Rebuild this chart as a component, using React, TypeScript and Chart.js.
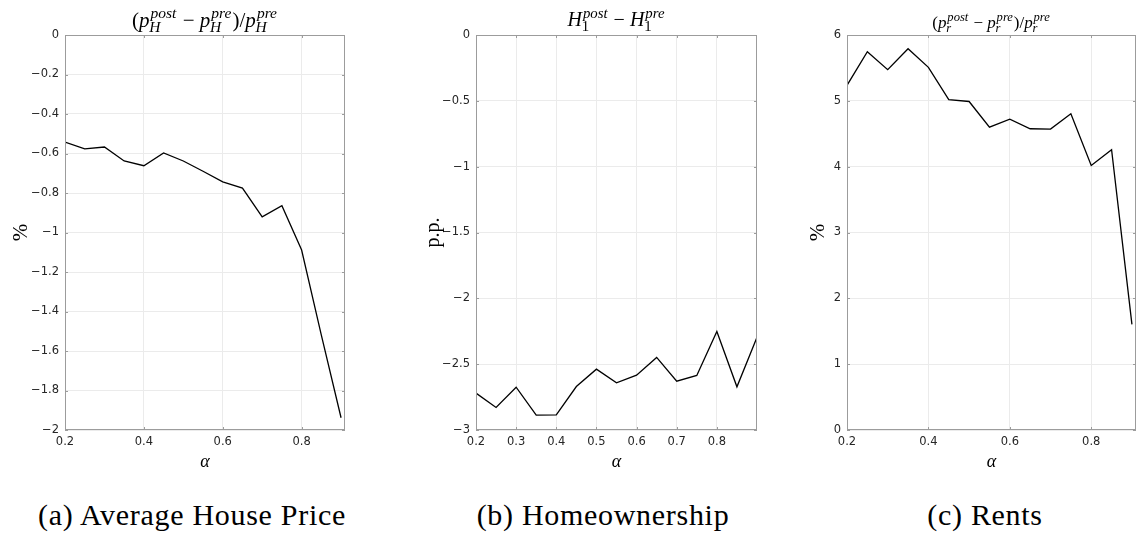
import React, { useEffect, useRef } from "react";
import { Chart, registerables } from "chart.js";

Chart.register(...registerables);

// Policy parameter alpha on the horizontal axis of every panel
const alpha = [0.2, 0.25, 0.3, 0.35, 0.4, 0.45, 0.5, 0.55, 0.6, 0.65, 0.7, 0.75, 0.8, 0.85, 0.9];

// (a) change in the average house price, %
const housePriceChange = [
  -0.542, -0.577, -0.567, -0.638, -0.662, -0.597, -0.638, -0.69, -0.744, -0.775, -0.921, -0.864,
  -1.089, -1.52, -1.938,
];

// (b) change in homeownership, percentage points
const homeownershipChange = [
  -2.72, -2.829, -2.675, -2.887, -2.885, -2.67, -2.538, -2.642, -2.584, -2.449, -2.629, -2.586,
  -2.252, -2.672, -2.295,
];

// (c) change in rents, %
const rentChange = [
  5.235, 5.747, 5.473, 5.792, 5.508, 5.017, 4.99, 4.6, 4.72, 4.576, 4.571, 4.804, 4.018, 4.257,
  1.605,
];

// Tick values
const wideXTicks = [0.2, 0.4, 0.6, 0.8];
const fineXTicks = [0.2, 0.3, 0.4, 0.5, 0.6, 0.7, 0.8];
const priceYTicks = [0, -0.2, -0.4, -0.6, -0.8, -1, -1.2, -1.4, -1.6, -1.8, -2];
const homeYTicks = [0, -0.5, -1, -1.5, -2, -2.5, -3];
const rentYTicks = [0, 1, 2, 3, 4, 5, 6];

// Captions under the panels
const captions = ["(a) Average House Price", "(b) Homeownership", "(c) Rents"];

type MathSeg = { t: string; it?: boolean; sup?: string; sub?: string; subUpright?: boolean };

const MATH_FONT = '"Liberation Serif", "DejaVu Serif", serif';
const TICK_FONT = '"DejaVu Sans", sans-serif';
const FRAME = "#9c9c9c";
const GRID = "#ebebeb";
const TEXT = "#262626";
const SCRIPT = 0.74;

function mathFont(size: number, italic: boolean) {
  return `${italic ? "italic " : ""}${size}px ${MATH_FONT}`;
}

function measureMath(ctx: CanvasRenderingContext2D, segs: MathSeg[], size: number) {
  let w = 0;
  const s = size * SCRIPT;
  for (const seg of segs) {
    ctx.font = mathFont(size, !!seg.it);
    w += ctx.measureText(seg.t).width;
    if (seg.sup || seg.sub) {
      ctx.font = mathFont(s, true);
      const a = seg.sup ? ctx.measureText(seg.sup).width : 0;
      ctx.font = mathFont(s, !seg.subUpright);
      const b = seg.sub ? ctx.measureText(seg.sub).width : 0;
      w += Math.max(a, b) + size * 0.1;
    }
  }
  return w;
}

function drawMath(
  ctx: CanvasRenderingContext2D,
  segs: MathSeg[],
  cx: number,
  baseline: number,
  size: number
) {
  const s = size * SCRIPT;
  let x = cx - measureMath(ctx, segs, size) / 2;
  ctx.save();
  ctx.fillStyle = "#000";
  ctx.textBaseline = "alphabetic";
  ctx.textAlign = "left";
  for (const seg of segs) {
    ctx.font = mathFont(size, !!seg.it);
    ctx.fillText(seg.t, x, baseline);
    x += ctx.measureText(seg.t).width;
    if (seg.sup || seg.sub) {
      const sx = x + size * 0.05;
      let a = 0;
      let b = 0;
      if (seg.sup) {
        ctx.font = mathFont(s, true);
        ctx.fillText(seg.sup, sx, baseline - size * 0.42);
        a = ctx.measureText(seg.sup).width;
      }
      if (seg.sub) {
        ctx.font = mathFont(s, !seg.subUpright);
        ctx.fillText(seg.sub, sx - size * 0.06, baseline + size * 0.26);
        b = ctx.measureText(seg.sub).width;
      }
      x += Math.max(a, b) + size * 0.1;
    }
  }
  ctx.restore();
}

type Panel = {
  left: number;
  width: number;
  height: number;
  area: { left: number; right: number; top: number; bottom: number };
  ys: number[];
  xMax: number;
  xTicks: number[];
  yTicks: number[];
  title: MathSeg[];
  titleSize: number;
  titleBaseline: number;
  yLabel: string;
  yLabelX: number;
  yLabelSize: number;
};

const panels: Panel[] = [
  {
    left: 0,
    width: 380,
    height: 480,
    area: { left: 65, right: 345, top: 35, bottom: 430 },
    ys: housePriceChange,
    xMax: 0.91,
    xTicks: wideXTicks,
    yTicks: priceYTicks,
    title: [
      { t: "(" },
      { t: "p", it: true, sup: "post", sub: "H" },
      { t: " − " },
      { t: "p", it: true, sup: "pre", sub: "H" },
      { t: ")/" },
      { t: "p", it: true, sup: "pre", sub: "H" },
    ],
    titleSize: 21,
    titleBaseline: 27,
    yLabel: "%",
    yLabelX: 21,
    yLabelSize: 21,
  },
  {
    left: 380,
    width: 380,
    height: 480,
    area: { left: 96, right: 377, top: 35, bottom: 430 },
    ys: homeownershipChange,
    xMax: 0.9,
    xTicks: fineXTicks,
    yTicks: homeYTicks,
    title: [
      { t: "H", it: true, sup: "post", sub: "1", subUpright: true },
      { t: " − " },
      { t: "H", it: true, sup: "pre", sub: "1", subUpright: true },
    ],
    titleSize: 20,
    titleBaseline: 26,
    yLabel: "p.p.",
    yLabelX: 54,
    yLabelSize: 20,
  },
  {
    left: 760,
    width: 380,
    height: 480,
    area: { left: 87, right: 376, top: 35, bottom: 430 },
    ys: rentChange,
    xMax: 0.91,
    xTicks: wideXTicks,
    yTicks: rentYTicks,
    title: [
      { t: "(" },
      { t: "p", it: true, sup: "post", sub: "r" },
      { t: " − " },
      { t: "p", it: true, sup: "pre", sub: "r" },
      { t: ")/" },
      { t: "p", it: true, sup: "pre", sub: "r" },
    ],
    titleSize: 17,
    titleBaseline: 28,
    yLabel: "%",
    yLabelX: 58,
    yLabelSize: 21,
  },
];

function formatTick(v: number) {
  const s = String(Number(v.toFixed(2)));
  return s.replace("-", "\u2212");
}

function PanelChart({ panel }: { panel: Panel }) {
  const ref = useRef<HTMLCanvasElement | null>(null);

  useEffect(() => {
    const canvas = ref.current;
    if (!canvas) return;

    const framePlugin = {
      id: "matlabFrame",
      afterDraw(chart: any) {
        const { ctx, chartArea } = chart;
        const { left, right, top, bottom } = chartArea;
        const xs = chart.scales.x;
        const ys = chart.scales.y;
        ctx.save();
        ctx.strokeStyle = FRAME;
        ctx.lineWidth = 1;
        ctx.strokeRect(
          Math.round(left) + 0.5,
          Math.round(top) + 0.5,
          Math.round(right - left) - 1,
          Math.round(bottom - top) - 1
        );
        ctx.beginPath();
        for (const v of panel.xTicks) {
          const px = Math.round(xs.getPixelForValue(v)) + 0.5;
          ctx.moveTo(px, bottom);
          ctx.lineTo(px, bottom - 3);
          ctx.moveTo(px, top);
          ctx.lineTo(px, top + 3);
        }
        for (const v of panel.yTicks) {
          const py = Math.round(ys.getPixelForValue(v)) + 0.5;
          ctx.moveTo(left, py);
          ctx.lineTo(left + 3, py);
          ctx.moveTo(right, py);
          ctx.lineTo(right - 3, py);
        }
        ctx.stroke();
        ctx.restore();

        // Title
        drawMath(ctx, panel.title, (left + right) / 2, panel.titleBaseline, panel.titleSize);

        // x-axis label
        ctx.save();
        ctx.fillStyle = "#000";
        ctx.font = mathFont(18, true);
        ctx.textAlign = "center";
        ctx.textBaseline = "middle";
        ctx.fillText("α", (left + right) / 2, 462);
        ctx.restore();

        // y-axis label
        ctx.save();
        ctx.translate(panel.yLabelX, (top + bottom) / 2);
        ctx.rotate(-Math.PI / 2);
        ctx.fillStyle = "#000";
        ctx.font = mathFont(panel.yLabelSize, false);
        ctx.textAlign = "center";
        ctx.textBaseline = "middle";
        ctx.fillText(panel.yLabel, 0, 0);
        ctx.restore();
      },
    };

    const tickFont = { family: TICK_FONT, size: 11.5 };

    const chart = new Chart(canvas, {
      type: "line",
      data: {
        datasets: [
          {
            data: alpha.map((x, i) => ({ x, y: panel.ys[i] })),
            borderColor: "#000",
            borderWidth: 1.3,
            pointRadius: 0,
            tension: 0,
            fill: false,
          },
        ],
      },
      options: {
        animation: false,
        responsive: false,
        events: [],
        layout: {
          padding: {
            left: 0,
            right: panel.width - panel.area.right,
            top: panel.area.top,
            bottom: 0,
          },
        },
        plugins: {
          legend: { display: false },
          tooltip: { enabled: false },
        },
        scales: {
          x: {
            type: "linear",
            min: 0.2,
            max: panel.xMax,
            afterBuildTicks: (s: any) => {
              s.ticks = panel.xTicks.map((v) => ({ value: v }));
            },
            afterFit: (s: any) => {
              s.height = panel.height - panel.area.bottom;
            },
            grid: { color: GRID, drawTicks: false, lineWidth: 1 },
            border: { display: false },
            ticks: {
              padding: 5,
              font: tickFont,
              color: TEXT,
              maxRotation: 0,
              autoSkip: false,
              callback: (v: any) => formatTick(Number(v)),
            },
          },
          y: {
            type: "linear",
            min: Math.min(...panel.yTicks),
            max: Math.max(...panel.yTicks),
            afterBuildTicks: (s: any) => {
              s.ticks = panel.yTicks.map((v) => ({ value: v }));
            },
            afterFit: (s: any) => {
              s.width = panel.area.left;
            },
            grid: { color: GRID, drawTicks: false, lineWidth: 1 },
            border: { display: false },
            ticks: {
              padding: 6,
              font: tickFont,
              color: TEXT,
              autoSkip: false,
              callback: (v: any) => formatTick(Number(v)),
            },
          },
        },
      },
      plugins: [framePlugin],
    } as any);

    return () => chart.destroy();
  }, [panel]);

  return (
    <canvas
      ref={ref}
      width={panel.width}
      height={panel.height}
      style={{
        position: "absolute",
        left: panel.left,
        top: 0,
        width: panel.width,
        height: panel.height,
      }}
    />
  );
}

const captionCenters = [192, 603, 985];

export default function App() {
  return (
    <div
      style={{
        position: "absolute",
        left: 0,
        top: 0,
        width: 1136,
        height: 539,
        overflow: "hidden",
        background: "#fff",
      }}
    >
      {panels.map((p, i) => (
        <PanelChart key={i} panel={p} />
      ))}
      {captions.map((c, i) => (
        <div
          key={c}
          style={{
            position: "absolute",
            left: captionCenters[i] - 250,
            width: 500,
            top: 497,
            textAlign: "center",
            fontFamily: MATH_FONT,
            fontSize: 30,
            letterSpacing: 0.7,
            lineHeight: "36px",
            color: "#000",
            whiteSpace: "nowrap",
          }}
        >
          {c}
        </div>
      ))}
    </div>
  );
}
